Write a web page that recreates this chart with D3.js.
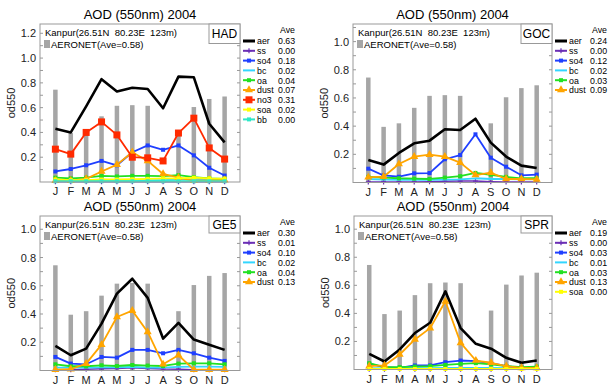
<!DOCTYPE html>
<html>
<head>
<meta charset="utf-8">
<script src="https://cdn.jsdelivr.net/npm/d3@7"></script>
<style>
  body { margin: 0; background: #fff; }
  svg text { font-family: "Liberation Sans", Arial, sans-serif; }
</style>
</head>
<body>
<div id="chart"></div>
<script>
// Month ticks and the AERONET bars (same station in all four panels, August missing)
var months = ["J","F","M","A","M","J","J","A","S","O","N","D"];
var aeronet = [0.745, 0.395, 0.42, 0.53, 0.615, 0.62, 0.615, null, 0.42, 0.605, 0.67, 0.69];
var yTicks = [0.2, 0.4, 0.6, 0.8, 1.0, 1.2];

// HAD
var hadAer  = [0.43, 0.40, 0.61, 0.83, 0.73, 0.76, 0.75, 0.595, 0.85, 0.845, 0.47, 0.32];
var hadSs   = [0.003, 0.003, 0.003, 0.003, 0.003, 0.003, 0.003, 0.003, 0.003, 0.003, 0.003, 0.003];
var hadSo4  = [0.085, 0.105, 0.135, 0.17, 0.135, 0.24, 0.295, 0.26, 0.295, 0.215, 0.115, 0.052];
var hadBc   = [0.015, 0.015, 0.015, 0.018, 0.015, 0.015, 0.015, 0.015, 0.02, 0.02, 0.02, 0.018];
var hadOa   = [0.035, 0.03, 0.035, 0.05, 0.045, 0.05, 0.05, 0.048, 0.055, 0.04, 0.03, 0.025];
var hadDust = [0.01, 0.01, 0.025, 0.085, 0.14, 0.24, 0.17, 0.065, 0.035, 0.01, 0.012, 0.015];
var hadNo3  = [0.265, 0.225, 0.40, 0.485, 0.38, 0.20, 0.195, 0.17, 0.395, 0.515, 0.275, 0.185];
var hadSoa  = [0.02, 0.015, 0.015, 0.02, 0.02, 0.022, 0.025, 0.03, 0.03, 0.035, 0.03, 0.028];
var hadBb   = [0.006, 0.006, 0.006, 0.006, 0.006, 0.006, 0.006, 0.006, 0.006, 0.006, 0.006, 0.006];
var hadAve  = ["0.63","0.00","0.18","0.02","0.04","0.07","0.31","0.02","0.00"];

// GOC
var gocAer  = [0.16, 0.127, 0.21, 0.278, 0.297, 0.378, 0.373, 0.453, 0.283, 0.184, 0.12, 0.103];
var gocSs   = [0.004, 0.004, 0.004, 0.004, 0.005, 0.008, 0.01, 0.01, 0.006, 0.004, 0.004, 0.004];
var gocSo4  = [0.098, 0.05, 0.041, 0.065, 0.067, 0.165, 0.195, 0.342, 0.176, 0.112, 0.051, 0.056];
var gocBc   = [0.025, 0.02, 0.018, 0.018, 0.018, 0.02, 0.022, 0.03, 0.025, 0.025, 0.022, 0.025];
var gocOa   = [0.04, 0.035, 0.03, 0.028, 0.025, 0.035, 0.045, 0.068, 0.055, 0.04, 0.03, 0.03];
var gocDust = [0.037, 0.041, 0.131, 0.184, 0.198, 0.184, 0.141, 0.053, 0.07, 0.025, 0.025, 0.022];
var gocAve  = ["0.24","0.00","0.12","0.02","0.03","0.09"];

// GE5
var ge5Aer  = [0.174, 0.108, 0.155, 0.332, 0.544, 0.65, 0.514, 0.226, 0.337, 0.219, 0.183, 0.146];
var ge5Ss   = [0.005, 0.005, 0.008, 0.012, 0.015, 0.02, 0.015, 0.01, 0.008, 0.006, 0.005, 0.005];
var ge5So4  = [0.096, 0.049, 0.044, 0.096, 0.091, 0.146, 0.146, 0.122, 0.146, 0.122, 0.091, 0.068];
var ge5Bc   = [0.02, 0.02, 0.02, 0.022, 0.022, 0.025, 0.02, 0.02, 0.025, 0.028, 0.028, 0.025];
var ge5Oa   = [0.044, 0.03, 0.03, 0.037, 0.032, 0.039, 0.035, 0.032, 0.049, 0.051, 0.051, 0.044];
var ge5Dust = [0.006, 0.009, 0.049, 0.183, 0.379, 0.424, 0.273, 0.044, 0.108, 0.006, 0.006, 0.006];
var ge5Ave  = ["0.30","0.01","0.10","0.02","0.04","0.13"];

// SPR
var sprAer  = [0.112, 0.057, 0.143, 0.26, 0.333, 0.557, 0.295, 0.183, 0.148, 0.083, 0.048, 0.064];
var sprSs   = [0.002, 0.002, 0.002, 0.002, 0.002, 0.002, 0.002, 0.002, 0.002, 0.002, 0.002, 0.002];
var sprSo4  = [0.04, 0.017, 0.012, 0.029, 0.029, 0.052, 0.064, 0.06, 0.045, 0.024, 0.012, 0.012];
var sprBc   = [0.01, 0.008, 0.008, 0.01, 0.01, 0.012, 0.012, 0.012, 0.012, 0.01, 0.008, 0.01];
var sprOa   = [0.045, 0.017, 0.017, 0.021, 0.024, 0.033, 0.04, 0.045, 0.036, 0.024, 0.017, 0.021];
var sprDust = [0.024, 0.029, 0.107, 0.214, 0.295, 0.486, 0.19, 0.064, 0.048, 0.024, 0.012, 0.012];
var sprSoa  = [0.004, 0.004, 0.004, 0.004, 0.004, 0.004, 0.004, 0.004, 0.004, 0.004, 0.004, 0.004];
var sprAve  = ["0.19","0.00","0.03","0.01","0.03","0.13","0.00"];

// Styles per species
var styles = {
  aer:  { color: "#000000", width: 2.6, marker: "none" },
  ss:   { color: "#6b2fb5", width: 1.5, marker: "plus" },
  so4:  { color: "#1f3fff", width: 1.8, marker: "small" },
  bc:   { color: "#33d6ff", width: 1.8, marker: "none" },
  oa:   { color: "#22e022", width: 1.8, marker: "small" },
  dust: { color: "#ffa500", width: 1.8, marker: "tri" },
  no3:  { color: "#ff2a00", width: 1.8, marker: "square" },
  soa:  { color: "#ffff00", width: 1.8, marker: "small" },
  bb:   { color: "#2de8c8", width: 1.8, marker: "small" }
};

var panels = [
  { name: "HAD", x0: 40, x1: 240, y0: 24, y1: 182, ymax: 1.275, legX: 243,
    keys: ["aer","ss","so4","bc","oa","dust","no3","soa","bb"],
    series: [hadAer, hadSs, hadSo4, hadBc, hadOa, hadDust, hadNo3, hadSoa, hadBb], ave: hadAve },
  { name: "GOC", x0: 353, x1: 552, y0: 24, y1: 182.5, ymax: 1.125, legX: 555,
    keys: ["aer","ss","so4","bc","oa","dust"],
    series: [gocAer, gocSs, gocSo4, gocBc, gocOa, gocDust], ave: gocAve },
  { name: "GE5", x0: 40, x1: 240, y0: 216, y1: 370.5, ymax: 1.094, legX: 243,
    keys: ["aer","ss","so4","bc","oa","dust"],
    series: [ge5Aer, ge5Ss, ge5So4, ge5Bc, ge5Oa, ge5Dust], ave: ge5Ave },
  { name: "SPR", x0: 354, x1: 552, y0: 216, y1: 369.5, ymax: 1.094, legX: 555,
    keys: ["aer","ss","so4","bc","oa","dust","soa"],
    series: [sprAer, sprSs, sprSo4, sprBc, sprOa, sprDust, sprSoa], ave: sprAve }
];

var svg = d3.select("#chart").append("svg").attr("width", 610).attr("height", 384);

function drawMarker(g, kind, x, y, color) {
  if (kind === "square") {
    g.append("rect").attr("x", x - 3.5).attr("y", y - 3.5).attr("width", 7).attr("height", 7).attr("fill", color);
  } else if (kind === "small") {
    g.append("rect").attr("x", x - 2).attr("y", y - 2).attr("width", 4).attr("height", 4).attr("fill", color);
  } else if (kind === "tri") {
    g.append("path").attr("d", d3.symbol().type(d3.symbolTriangle).size(28)()).attr("transform", "translate(" + x + "," + y + ")").attr("fill", color);
  } else if (kind === "plus") {
    g.append("path").attr("d", "M" + (x - 2.5) + "," + y + "H" + (x + 2.5) + "M" + x + "," + (y - 2.5) + "V" + (y + 2.5)).attr("stroke", color).attr("stroke-width", 1.2);
  }
}

panels.forEach(function(p) {
  var g = svg.append("g");
  var xScale = d3.scaleLinear().domain([0, 13]).range([p.x0, p.x1]);
  var yScale = d3.scaleLinear().domain([0, p.ymax]).range([p.y1, p.y0]);

  // Title
  g.append("text").attr("x", (p.x0 + p.x1) / 2).attr("y", p.y0 - 5).attr("text-anchor", "middle")
    .attr("font-size", 13).text("AOD (550nm) 2004");

  // AERONET bars (skip the missing month)
  var barData = aeronet.map(function(v, i) { return { m: i + 1, v: v }; })
    .filter(function(d) { return d.v !== null; });
  g.selectAll("rect.bar").data(barData).enter()
    .append("rect").attr("class", "bar")
    .attr("x", function(d) { return xScale(d.m) - 2.25; })
    .attr("y", function(d) { return yScale(d.v); })
    .attr("width", 4.5)
    .attr("height", function(d) { return yScale(0) - yScale(d.v); })
    .attr("fill", "#a6a6a6");

  // Lines
  var line = d3.line().defined(function(d) { return d !== null; })
    .x(function(d, i) { return xScale(i + 1); })
    .y(function(d) { return yScale(d); });
  p.keys.forEach(function(k, j) {
    var st = styles[k];
    g.append("path").datum(p.series[j]).attr("fill", "none").attr("stroke", st.color)
      .attr("stroke-width", st.width).attr("stroke-linejoin", "round").attr("d", line);
    p.series[j].forEach(function(v, i) {
      drawMarker(g, st.marker, xScale(i + 1), yScale(v), st.color);
    });
  });

  // Frame
  g.append("rect").attr("x", p.x0).attr("y", p.y0).attr("width", p.x1 - p.x0).attr("height", p.y1 - p.y0)
    .attr("fill", "none").attr("stroke", "#999").attr("stroke-width", 1);

  // Minor ticks inside left and right
  var minor = d3.range(0.1, p.ymax, 0.1);
  minor.forEach(function(t) {
    g.append("line").attr("x1", p.x1).attr("x2", p.x1 - 3).attr("y1", yScale(t)).attr("y2", yScale(t)).attr("stroke", "#999");
    g.append("line").attr("x1", p.x0).attr("x2", p.x0 + 3).attr("y1", yScale(t)).attr("y2", yScale(t)).attr("stroke", "#999");
  });

  // Y tick labels
  yTicks.filter(function(t) { return t <= p.ymax; }).forEach(function(t) {
    g.append("text").attr("x", p.x0 - 4).attr("y", yScale(t) + 4).attr("text-anchor", "end")
      .attr("font-size", 11).attr("fill", "#222").text(t.toFixed(1));
  });

  // Month labels
  months.forEach(function(m, i) {
    g.append("text").attr("x", xScale(i + 1)).attr("y", p.y1 + 13).attr("text-anchor", "middle")
      .attr("font-size", 11).attr("fill", "#222").text(m);
  });

  // Y axis label
  g.append("text").attr("transform", "translate(" + (p.x0 - 25) + "," + ((p.y0 + p.y1) / 2) + ") rotate(-90)")
    .attr("text-anchor", "middle").attr("font-size", 11).attr("fill", "#222").text("od550");

  // Station text and AERONET key
  g.append("text").attr("x", p.x0 + 5).attr("y", p.y0 + 12).attr("font-size", 9.5).text("Kanpur(26.51N  80.23E  123m)")
    .attr("xml:space", "preserve").style("white-space", "pre");
  g.append("rect").attr("x", p.x0 + 4).attr("y", p.y0 + 16).attr("width", 6).attr("height", 8).attr("fill", "#a6a6a6");
  g.append("text").attr("x", p.x0 + 11).attr("y", p.y0 + 24).attr("font-size", 9.5).text("AERONET(Ave=0.58)");

  // Model name box
  var bh = p.y0 < 100 ? 19.5 : 17;
  g.append("rect").attr("x", p.x1 - 31).attr("y", p.y0).attr("width", 31).attr("height", bh)
    .attr("fill", "#fff").attr("stroke", "#999");
  g.append("text").attr("x", p.x1 - 15.5).attr("y", p.y0 + bh / 2 + 4.5).attr("text-anchor", "middle")
    .attr("font-size", 12).text(p.name);

  // Legend
  var ly = p.y0 + 17;
  g.append("text").attr("x", p.legX + 37).attr("y", p.y0 + 9).attr("font-size", 8.8).text("Ave");
  p.keys.forEach(function(k, j) {
    var st = styles[k];
    var yy = ly + j * 9.8;
    g.append("line").attr("x1", p.legX).attr("x2", p.legX + 12).attr("y1", yy).attr("y2", yy)
      .attr("stroke", st.color).attr("stroke-width", k === "aer" ? 3 : 2);
    drawMarker(g, st.marker, p.legX + 6, yy, st.color);
    g.append("text").attr("x", p.legX + 14).attr("y", yy + 3.3).attr("font-size", 8.8).text(k);
    g.append("text").attr("x", p.legX + 35).attr("y", yy + 3.3).attr("font-size", 8.8).text(p.ave[j]);
  });
});
</script>
</body>
</html>
